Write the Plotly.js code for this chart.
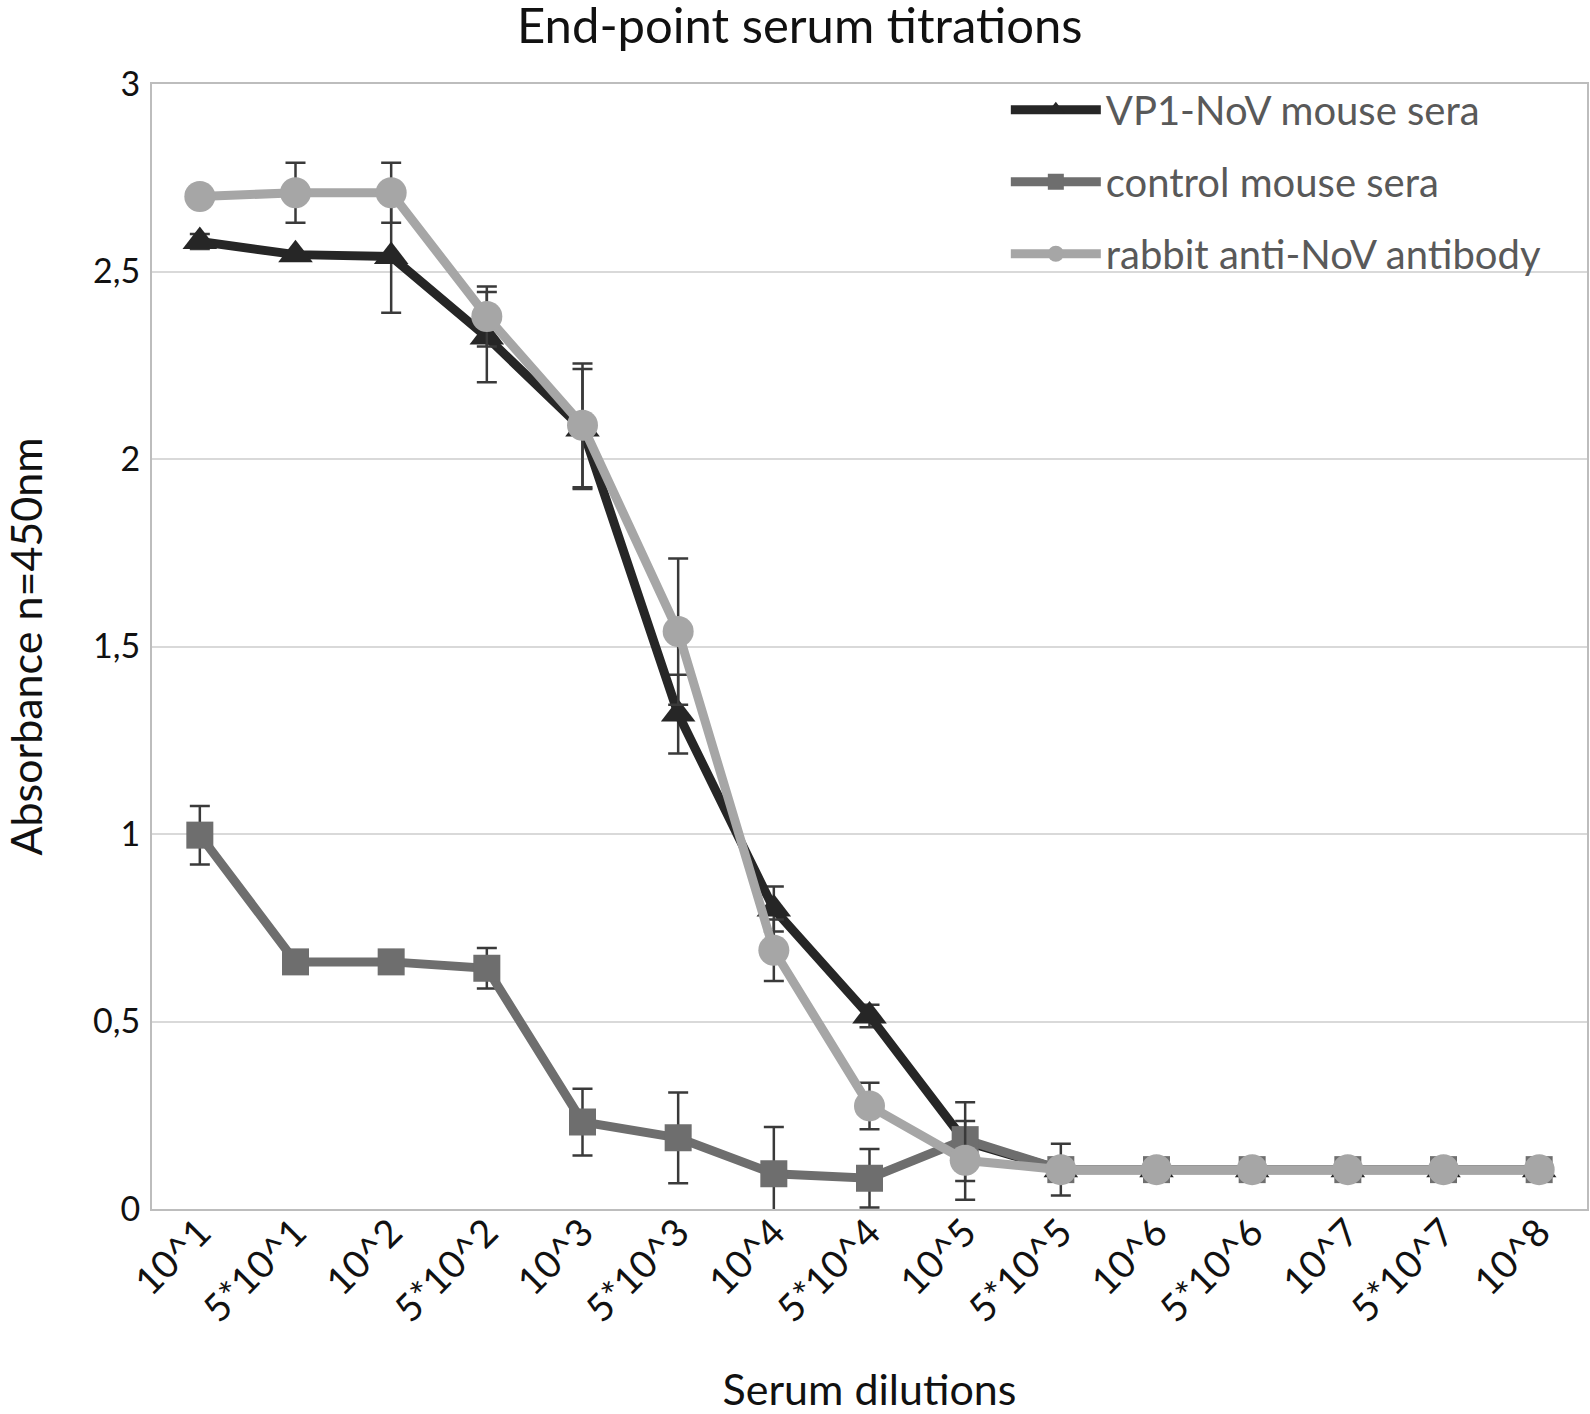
<!DOCTYPE html>
<html>
<head>
<meta charset="utf-8">
<script src="https://cdn.plot.ly/plotly-3.0.1.min.js"></script>
<style>html,body{margin:0;padding:0;background:#fff;}#chart{width:1590px;height:1414px;}</style>
</head>
<body>
<div id="chart"></div>
<script>
const dilutions = ['10^1','5*10^1','10^2','5*10^2','10^3','5*10^3','10^4','5*10^4','10^5','5*10^5','10^6','5*10^6','10^7','5*10^7','10^8'];

const vp1Mean = [2.58, 2.545, 2.54, 2.325, 2.08, 1.32, 0.80, 0.515, 0.18, 0.105, 0.105, 0.105, 0.105, 0.105, 0.105];
const vp1Err  = [0.02, 0, 0.15, 0.12, 0.16, 0.105, 0.06, 0.03, 0.105, 0, 0, 0, 0, 0, 0];

const controlMean = [0.997, 0.659, 0.659, 0.642, 0.232, 0.19, 0.094, 0.082, 0.185, 0.105, 0.105, 0.105, 0.105, 0.105, 0.105];
const controlErr  = [0.078, 0, 0, 0.054, 0.089, 0.121, 0.125, 0.078, 0.02, 0, 0, 0, 0, 0, 0];

const rabbitMean = [2.70, 2.71, 2.71, 2.38, 2.09, 1.54, 0.69, 0.275, 0.13, 0.105, 0.105, 0.105, 0.105, 0.105, 0.105];
const rabbitErr  = [0, 0.08, 0.08, 0.08, 0.165, 0.195, 0.082, 0.062, 0.105, 0.069, 0, 0, 0, 0, 0];

const seriesNames = ['VP1-NoV mouse sera', 'control mouse sera', 'rabbit anti-NoV antibody'];

const FONT = 'Lato, "Open Sans", sans-serif';
const errStyle = {type: 'data', visible: true, color: '#3a3a3a', thickness: 2.5, width: 10};

function trace(name, y, err, color, symbol, size, group) {
  return {
    type: 'scatter', mode: 'lines+markers', name: name,
    x: dilutions, y: y,
    legendgroup: group,
    line: {color: color, width: 9},
    marker: {color: color, symbol: symbol, size: size},
    error_y: Object.assign({array: err}, errStyle),
    cliponaxis: true
  };
}

const data = [
  trace(seriesNames[0], vp1Mean, vp1Err, '#262626', 'triangle-up', 30, 'a'),
  trace(seriesNames[1], controlMean, controlErr, '#6e6e6e', 'square', 27, 'b'),
  trace(seriesNames[2], rabbitMean, rabbitErr, '#a6a6a6', 'circle', 31, 'c')
];

const layout = {
  width: 1590, height: 1414,
  paper_bgcolor: '#ffffff', plot_bgcolor: '#ffffff',
  separators: ', ',
  margin: {l: 152, r: 3, t: 84, b: 205},
  font: {family: FONT, color: '#000000'},
  title: {
    text: 'End-point serum titrations',
    font: {family: FONT, size: 49, color: '#111111'},
    x: 0.503, xanchor: 'center', xref: 'container',
    y: 0.994, yanchor: 'top', yref: 'container',
    pad: {t: 0, b: 0, l: 0, r: 0}
  },
  xaxis: {
    type: 'category',
    range: [-0.5, 14.5],
    tickangle: -45,
    tickfont: {family: FONT, size: 38, color: '#111111'},
    ticks: '', ticklabelstandoff: -16,
    showgrid: false, zeroline: false,
    showline: true, linecolor: '#bdbdbd', linewidth: 2, mirror: true,
    title: {text: 'Serum dilutions', font: {family: FONT, size: 43, color: '#111111'}, standoff: 77}
  },
  yaxis: {
    range: [0, 3], dtick: 0.5, tick0: 0,
    tickfont: {family: FONT, size: 34, color: '#111111'},
    ticks: '', ticklabelstandoff: 3,
    showgrid: true, gridcolor: '#d9d9d9', gridwidth: 2,
    zeroline: false,
    showline: true, linecolor: '#bdbdbd', linewidth: 2, mirror: true,
    title: {text: 'Absorbance n=450nm', font: {family: FONT, size: 43, color: '#111111'}, standoff: 51}
  },
  showlegend: true,
  legend: {
    x: 0.595, xanchor: 'left', y: 1.006, yanchor: 'top',
    bgcolor: 'rgba(255,255,255,0)',
    font: {family: FONT, size: 40, color: '#595959'},
    traceorder: 'grouped', tracegroupgap: 17,
    itemwidth: 90, itemsizing: 'trace'
  }
};

Plotly.newPlot('chart', data, layout, {staticPlot: true, displayModeBar: false});
</script>
</body>
</html>
